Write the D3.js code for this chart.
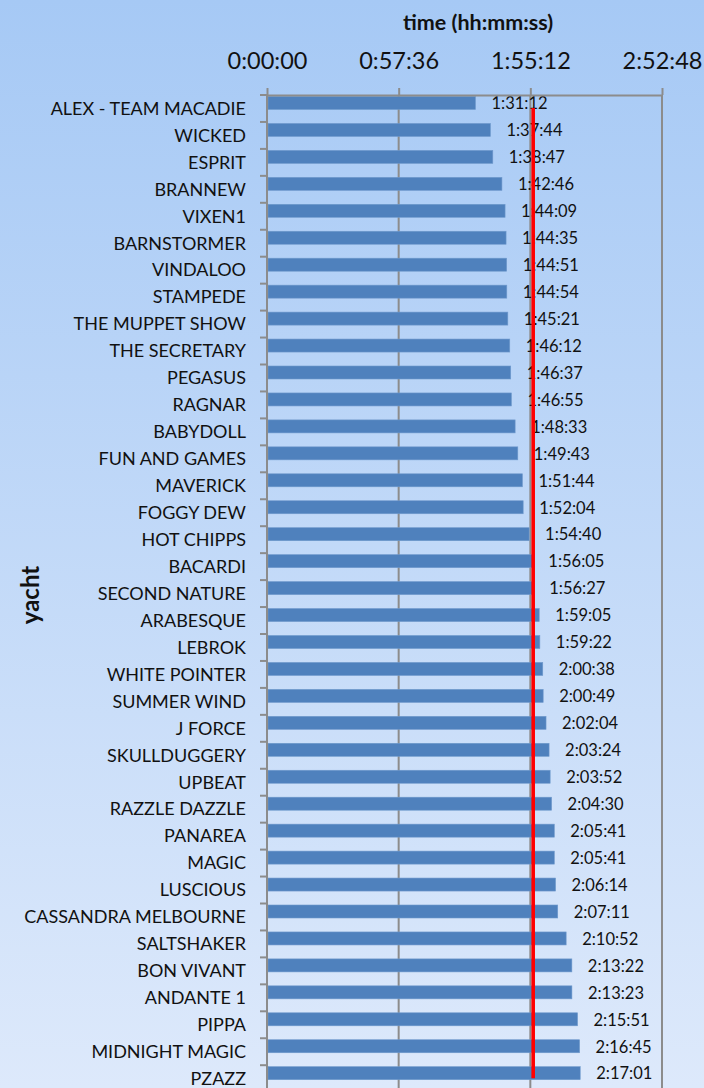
<!DOCTYPE html>
<head>
  <meta charset="utf-8">
  <script src="https://d3js.org/d3.v7.min.js"></script>
  <style>
    body { margin: 0; }
    svg { display: block; }
  </style>
</head>
<body>
  <script>
    // chart size
    var outerWidth = 704,
      outerHeight = 1088;

    // plot area edges
    var margin = { top: 95, left: 267 };
    var plotWidth = 395;
    var bandStep = 26.95;

    // yachts in finishing order
    var yachts = ["ALEX - TEAM MACADIE", "WICKED", "ESPRIT", "BRANNEW", "VIXEN1", "BARNSTORMER",
      "VINDALOO", "STAMPEDE", "THE MUPPET SHOW", "THE SECRETARY", "PEGASUS", "RAGNAR",
      "BABYDOLL", "FUN AND GAMES", "MAVERICK", "FOGGY DEW", "HOT CHIPPS", "BACARDI",
      "SECOND NATURE", "ARABESQUE", "LEBROK", "WHITE POINTER", "SUMMER WIND", "J FORCE",
      "SKULLDUGGERY", "UPBEAT", "RAZZLE DAZZLE", "PANAREA", "MAGIC", "LUSCIOUS",
      "CASSANDRA MELBOURNE", "SALTSHAKER", "BON VIVANT", "ANDANTE 1", "PIPPA",
      "MIDNIGHT MAGIC", "PZAZZ"];

    // elapsed times
    var times = ["1:31:12", "1:37:44", "1:38:47", "1:42:46", "1:44:09", "1:44:35",
      "1:44:51", "1:44:54", "1:45:21", "1:46:12", "1:46:37", "1:46:55",
      "1:48:33", "1:49:43", "1:51:44", "1:52:04", "1:54:40", "1:56:05",
      "1:56:27", "1:59:05", "1:59:22", "2:00:38", "2:00:49", "2:02:04",
      "2:03:24", "2:03:52", "2:04:30", "2:05:41", "2:05:41", "2:06:14",
      "2:07:11", "2:10:52", "2:13:22", "2:13:23", "2:15:51",
      "2:16:45", "2:17:01"];

    // the red reference line
    var referenceTime = "1:56:27";

    // x axis ticks
    var tickLabels = ["0:00:00", "0:57:36", "1:55:12", "2:52:48"];

    function toSeconds(t) {
      var p = t.split(":").map(Number);
      return p[0] * 3600 + p[1] * 60 + p[2];
    }

    function toClock(s) {
      var h = Math.floor(s / 3600),
        m = Math.floor((s % 3600) / 60),
        sec = s % 60;
      return h + ":" + d3.format("02")(m) + ":" + d3.format("02")(sec);
    }

    var rows = yachts.map(function(name, i) {
      return { name: name, label: times[i], seconds: toSeconds(times[i]) };
    });
    var tickValues = tickLabels.map(toSeconds);

    var xScale = d3.scaleLinear()
      .domain([0, tickValues[tickValues.length - 1]])
      .range([margin.left, margin.left + plotWidth]);

    var yScale = d3.scaleBand()
      .domain(yachts)
      .range([margin.top, margin.top + bandStep * yachts.length]);

    var bottom = margin.top + bandStep * yachts.length;

    var svg = d3.select("body").append("svg")
      .attr("width", outerWidth)
      .attr("height", outerHeight)
      .style("font-family", "Lato, 'Open Sans', sans-serif");

    // background gradient
    var grad = svg.append("defs").append("linearGradient")
      .attr("id", "bg")
      .attr("x1", 0).attr("y1", 0).attr("x2", 0).attr("y2", 1);
    grad.append("stop").attr("offset", "0%").attr("stop-color", "#a6c9f5");
    grad.append("stop").attr("offset", "100%").attr("stop-color", "#dde9fb");

    svg.append("rect")
      .attr("width", outerWidth)
      .attr("height", outerHeight)
      .attr("fill", "url(#bg)");

    // vertical gridlines
    svg.append("g").selectAll("line")
      .data(tickValues.slice(1))
      .enter().append("line")
      .attr("x1", function(d) { return xScale(d); })
      .attr("x2", function(d) { return xScale(d); })
      .attr("y1", margin.top)
      .attr("y2", bottom)
      .attr("stroke", "#8c8c8c")
      .attr("stroke-width", 2);

    // bars
    svg.append("g").selectAll("rect")
      .data(rows)
      .enter().append("rect")
      .attr("x", xScale(0) + 1)
      .attr("y", function(d) { return yScale(d.name) + 1.5; })
      .attr("width", function(d) { return xScale(d.seconds) - xScale(0) - 1; })
      .attr("height", 13)
      .attr("fill", "#4f81bd")
      .attr("stroke", "#6f99cc")
      .attr("stroke-width", 0.6);

    // data labels
    svg.append("g").selectAll("text")
      .data(rows)
      .enter().append("text")
      .attr("x", function(d) { return xScale(d.seconds) + 16; })
      .attr("y", function(d) { return yScale(d.name) + 8.5; })
      .attr("dy", "0.35em")
      .attr("font-size", 16.5)
      .attr("fill", "#111")
      .text(function(d) { return d.label; });

    // reference line through the band centres
    var refLine = d3.line()
      .x(function(d) { return xScale(toSeconds(referenceTime)); })
      .y(function(d) { return yScale(d) + yScale.bandwidth() / 2 - 0.5; });

    svg.append("path")
      .datum([yachts[0], yachts[yachts.length - 1]])
      .attr("d", refLine)
      .attr("stroke", "#ff0000")
      .attr("stroke-width", 3.6)
      .attr("fill", "none");

    // top axis
    var xAxis = d3.axisTop(xScale)
      .tickValues(tickValues)
      .tickFormat(toClock)
      .tickSizeInner(7)
      .tickSizeOuter(0)
      .tickPadding(19);

    var xAxisG = svg.append("g")
      .attr("transform", "translate(0," + margin.top + ")")
      .call(xAxis);
    xAxisG.select(".domain").attr("stroke", "#8c8c8c").attr("stroke-width", 2);
    xAxisG.selectAll(".tick line").attr("stroke", "#8c8c8c").attr("stroke-width", 2);
    xAxisG.selectAll(".tick text")
      .attr("font-size", 23.5)
      .attr("font-family", "Lato, sans-serif")
      .attr("fill", "#111");

    // keep the last tick label inside the chart
    xAxisG.selectAll(".tick text").each(function() {
      var box = this.getBBox();
      var tx = this.parentNode.transform.baseVal.consolidate().matrix.e;
      var overflow = tx + box.x + box.width - (outerWidth - 1);
      if (overflow > 0) d3.select(this).attr("x", -overflow);
    });

    // left axis line and boundary ticks
    var leftG = svg.append("g");
    leftG.append("line")
      .attr("x1", xScale(0)).attr("x2", xScale(0))
      .attr("y1", margin.top - 1).attr("y2", bottom)
      .attr("stroke", "#8c8c8c").attr("stroke-width", 2);
    leftG.selectAll(".btick")
      .data(yachts)
      .enter().append("line")
      .attr("class", "btick")
      .attr("x1", xScale(0) - 7).attr("x2", xScale(0))
      .attr("y1", function(d) { return yScale(d); })
      .attr("y2", function(d) { return yScale(d); })
      .attr("stroke", "#8c8c8c").attr("stroke-width", 2);

    // category labels
    leftG.selectAll(".cat")
      .data(yachts)
      .enter().append("text")
      .attr("class", "cat")
      .attr("x", xScale(0) - 21)
      .attr("y", function(d) { return yScale(d) + yScale.bandwidth() / 2; })
      .attr("dy", "0.35em")
      .attr("text-anchor", "end")
      .attr("font-size", 18)
      .attr("fill", "#111")
      .text(function(d) { return d; });

    // axis titles
    svg.append("text")
      .attr("x", 478)
      .attr("y", 30)
      .attr("text-anchor", "middle")
      .attr("font-size", 21.5)
      .attr("font-weight", "bold")
      .attr("fill", "#111")
      .text("time (hh:mm:ss)");

    svg.append("text")
      .attr("transform", "translate(39,595) rotate(-90)")
      .attr("text-anchor", "middle")
      .attr("font-size", 24)
      .attr("font-weight", "bold")
      .attr("fill", "#111")
      .text("yacht");
  </script>
</body>
